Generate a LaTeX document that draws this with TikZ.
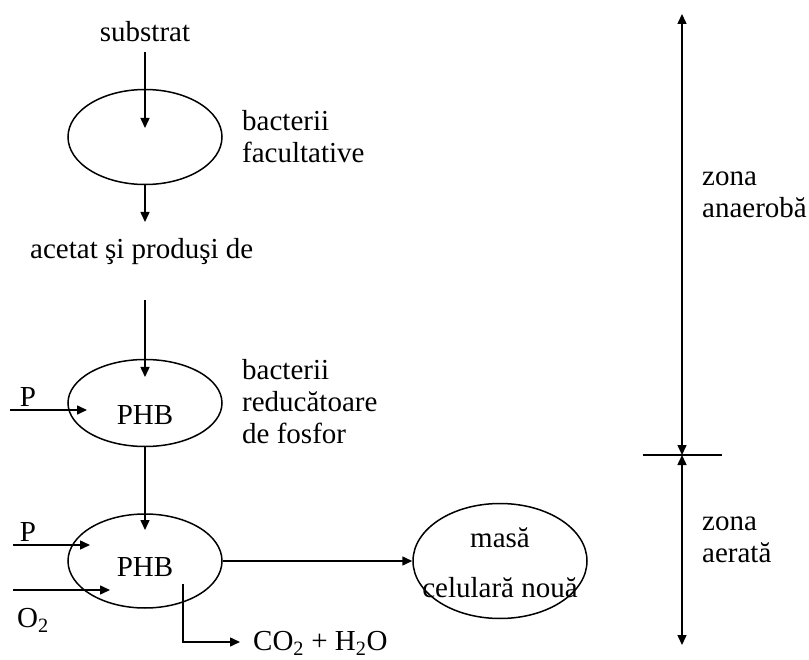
\documentclass[tikz,border=0pt]{standalone}
\usepackage{fontspec}
\setmainfont{Liberation Serif}
\usetikzlibrary{arrows.meta,shapes.geometric,positioning}

\begin{document}
\begin{tikzpicture}[x=1pt,y=-1pt,
  every node/.style={font=\fontsize{29}{32}\selectfont, inner sep=0pt},
  cell/.style={draw, ellipse, line width=1.5pt},
  arr/.style={line width=1.5pt, -{Triangle[length=10pt,width=9pt]}},
  ln/.style={line width=1.5pt}]
  \useasboundingbox (0,0) rectangle (809,660);

  % Ellipses
  \node[cell, minimum width=154, minimum height=95] (fac) at (145,137) {};
  \node[cell, minimum width=154, minimum height=87] (red) at (145,403) {};
  \node[cell, minimum width=154, minimum height=94] (aer) at (145,561) {};
  \node[cell, minimum width=174, minimum height=115] (mas) at (500,561) {};

  % Texts
  \node (sub) at (145,32) {substrat};
  \node[anchor=west, align=left] (bf) at (242,137) {bacterii\\facultative};
  \node[anchor=west] (acet) at (30,252) {acetat şi produşi de};
  \node (phb1) at (145,415) {PHB};
  \node[anchor=west, align=left] (brf) at (242,402) {bacterii\\reducătoare\\de fosfor};
  \node (phb2) at (145,567) {PHB};
  \node (p1) at (28,397) {P};
  \node (p2) at (28,532) {P};
  \node (o2) at (33,620) {O\textsubscript{2}};
  \node[anchor=west] (co2) at (253,643) {CO\textsubscript{2} + H\textsubscript{2}O};
  \node (masa) at (500,538) {masă};
  \node (cel) at (500,588) {celulară nouă};
  \node[anchor=west, align=left] (zan) at (702,195) {zona\\anaerobă};
  \node[anchor=west, align=left] (zae) at (702,540) {zona\\aerată};

  % Connector points
  \coordinate (s1) at (145,52);
  \coordinate (e1) at (145,128);
  \coordinate (e2) at (145,222);
  \coordinate (s3) at (145,300);
  \coordinate (e3) at (145,377);
  \coordinate (e4) at (145,530);
  \coordinate (pa) at (10,410);
  \coordinate (pb) at (87,410);
  \coordinate (pc) at (13,545);
  \coordinate (pd) at (90,545);
  \coordinate (oa) at (13,590);
  \coordinate (ob) at (110,590);
  \coordinate (ca) at (183,584);
  \coordinate (cb) at (183,642);
  \coordinate (cc) at (240,642);

  % Flow
  \draw[arr] (s1) -- (e1);
  \draw[arr] (fac.south) -- (e2);
  \draw[arr] (s3) -- (e3);
  \draw[arr] (red.south) -- (e4);
  \draw[arr] (pa) -- (pb);
  \draw[arr] (pc) -- (pd);
  \draw[arr] (oa) -- (ob);
  \draw[arr] (aer.east) -- (mas.west);
  \draw[arr] (ca) -- (cb) -- (cc);

  % Zones
  \coordinate (ztop) at (682,14);
  \coordinate (zmid) at (682,455);
  \coordinate (zbot) at (682,645);
  \coordinate (hl) at (643,455);
  \coordinate (hr) at (722,455);
  \draw[ln, {Triangle[length=10pt,width=9pt]}-{Triangle[length=10pt,width=9pt]}] (ztop) -- (zmid);
  \draw[ln, {Triangle[length=10pt,width=9pt]}-{Triangle[length=10pt,width=9pt]}] (zmid) -- (zbot);
  \draw[ln] (hl) -- (hr);
\end{tikzpicture}
\end{document}
